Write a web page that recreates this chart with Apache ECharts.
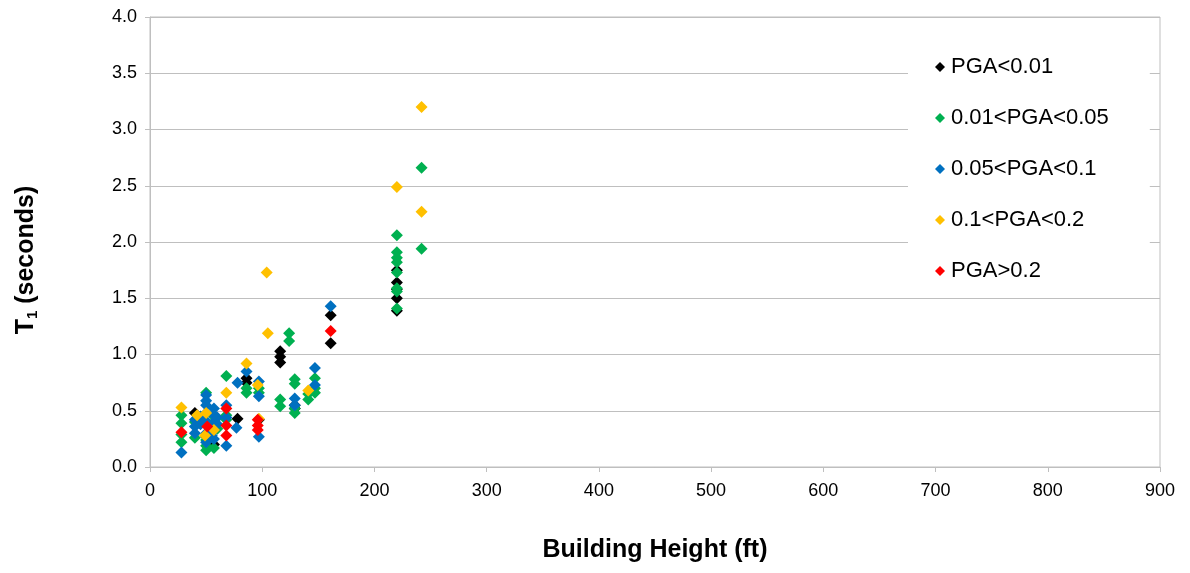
<!DOCTYPE html>
<html>
<head>
<meta charset="utf-8">
<script src="https://cdn.jsdelivr.net/npm/echarts@6/dist/echarts.min.js"></script>
<style>
  html, body { margin: 0; padding: 0; background: #fff; }
  #chart { width: 1190px; height: 573px; }
</style>
</head>
<body>
<div id="chart"></div>
<script>
// Fundamental period T1 (s) against building height (ft), grouped by peak ground acceleration
const seriesNames = ['PGA<0.01', '0.01<PGA<0.05', '0.05<PGA<0.1', '0.1<PGA<0.2', 'PGA>0.2'];

const pgaBelow001 = [
  [40, 0.48], [57, 0.20], [50, 0.27], [78, 0.43], [86, 0.79], [86, 0.75], [97, 0.42],
  [116, 1.03], [116, 0.98], [116, 0.93], [129, 0.55], [129, 0.52],
  [161, 1.35], [161, 1.10],
  [220, 1.75], [220, 1.64], [220, 1.58], [220, 1.50], [220, 1.39]
];

const pga001to005 = [
  [28, 0.46], [28, 0.39], [28, 0.29], [28, 0.22], [40, 0.26], [40, 0.40],
  [50, 0.66], [50, 0.24], [50, 0.19], [50, 0.15], [57, 0.17], [57, 0.45], [60, 0.34],
  [68, 0.81], [68, 0.46], [68, 0.42], [86, 0.66], [86, 0.70], [97, 0.66], [97, 0.70],
  [116, 0.60], [116, 0.54], [124, 1.19], [124, 1.12],
  [129, 0.78], [129, 0.74], [129, 0.52], [129, 0.48],
  [141, 0.60], [141, 0.65], [147, 0.66], [147, 0.79], [147, 0.70],
  [220, 2.06], [220, 1.91], [220, 1.86], [220, 1.82], [220, 1.73], [220, 1.59], [220, 1.56], [220, 1.41],
  [242, 2.66], [242, 1.94]
];

const pga005to01 = [
  [28, 0.13], [40, 0.36], [40, 0.30], [40, 0.42], [45, 0.45], [45, 0.38],
  [50, 0.64], [50, 0.59], [50, 0.55], [50, 0.48], [50, 0.41], [50, 0.30], [50, 0.22],
  [53, 0.35], [55, 0.28],
  [57, 0.52], [57, 0.46], [57, 0.40], [57, 0.33], [57, 0.25], [60, 0.44], [60, 0.38],
  [68, 0.55], [68, 0.44], [68, 0.19], [77, 0.35], [78, 0.75], [86, 0.85],
  [97, 0.76], [97, 0.63], [97, 0.27], [129, 0.61], [129, 0.55],
  [147, 0.88], [147, 0.73], [161, 1.43]
];

const pga01to02 = [
  [28, 0.53], [42, 0.46], [50, 0.48], [49, 0.28], [57, 0.33], [68, 0.66],
  [86, 0.92], [96, 0.73], [97, 0.43], [104, 1.73], [105, 1.19], [141, 0.68],
  [220, 2.49], [242, 3.20], [242, 2.27]
];

const pgaAbove02 = [
  [28, 0.31], [51, 0.36], [68, 0.52], [68, 0.37], [68, 0.28],
  [96, 0.42], [96, 0.37], [96, 0.33], [161, 1.21]
];

const seriesData = [pgaBelow001, pga001to005, pga005to01, pga01to02, pgaAbove02];
const seriesColors = ['#000000', '#00B050', '#0070C0', '#FFC000', '#FF0000'];

const xTicks = { min: 0, max: 900, interval: 100 };
const yTicks = { min: 0, max: 4, interval: 0.5 };

const font = '"Liberation Sans", Arial, sans-serif';
const gridGray = '#BFBFBF';

const chart = echarts.init(document.getElementById('chart'), null, { renderer: 'canvas' });

chart.setOption({
  animation: false,
  backgroundColor: '#ffffff',
  grid: {
    left: 150, right: 30, top: 17, bottom: 106,
    show: true, borderColor: gridGray, borderWidth: 1, backgroundColor: 'transparent'
  },
  legend: {
    orient: 'vertical',
    left: 908,
    top: 42,
    padding: [13, 41, 12, 27],
    backgroundColor: '#ffffff',
    itemWidth: 10,
    itemHeight: 10,
    itemGap: 27,
    icon: 'diamond',
    textStyle: { fontFamily: font, fontSize: 22, color: '#000', lineHeight: 24, padding: [0, 0, 0, 1] },
    data: seriesNames
  },
  xAxis: {
    type: 'value',
    min: xTicks.min, max: xTicks.max, interval: xTicks.interval,
    name: 'Building Height (ft)',
    nameLocation: 'middle',
    nameGap: 71,
    nameTextStyle: { fontFamily: font, fontSize: 25, fontWeight: 'bold', color: '#000' },
    axisLine: { show: true, onZero: false, lineStyle: { color: gridGray, width: 1 } },
    axisTick: { show: true, inside: false, length: 5, lineStyle: { color: gridGray } },
    axisLabel: { fontFamily: font, fontSize: 18, color: '#000', margin: 15 },
    splitLine: { show: false }
  },
  yAxis: {
    type: 'value',
    min: yTicks.min, max: yTicks.max, interval: yTicks.interval,
    name: '{b|T}{s|1}{b| (seconds)}',
    nameLocation: 'middle',
    nameGap: 110,
    nameRotate: 90,
    nameTextStyle: {
      padding: [0, 36, 0, 0],
      rich: {
        b: { fontFamily: font, fontSize: 25, fontWeight: 'bold', color: '#000' },
        s: { fontFamily: font, fontSize: 15, fontWeight: 'bold', color: '#000', verticalAlign: 'bottom', padding: [12, 0, 0, 0] }
      }
    },
    axisLine: { show: true, lineStyle: { color: gridGray, width: 1 } },
    axisTick: { show: true, inside: false, length: 5, lineStyle: { color: gridGray } },
    axisLabel: {
      fontFamily: font, fontSize: 18, color: '#000', margin: 13,
      formatter: v => v.toFixed(1)
    },
    splitLine: { show: true, lineStyle: { color: gridGray, width: 1 } }
  },
  series: seriesNames.map((name, i) => ({
    name: name,
    type: 'scatter',
    symbol: 'diamond',
    symbolSize: 12,
    itemStyle: { color: seriesColors[i], opacity: 1 },
    data: seriesData[i]
  }))
});
</script>
</body>
</html>
